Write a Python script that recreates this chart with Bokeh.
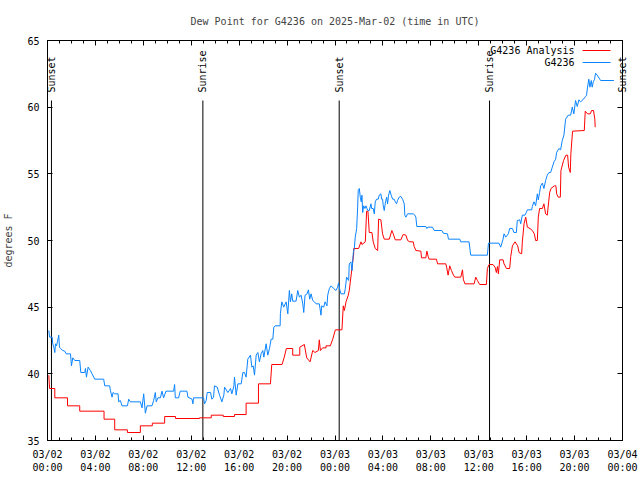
import math
from bokeh.plotting import figure
from bokeh.models import Range1d, FixedTicker, LinearAxis
from bokeh.core.properties import value
from bokeh.embed import file_html
from bokeh.resources import INLINE

TITLE = "Dew Point for G4236 on 2025-Mar-02 (time in UTC)"
Y_LABEL = "degrees F"
X_TICKS = [0, 4, 8, 12, 16, 20, 24, 28, 32, 36, 40, 44, 48]
X_TICK_LABELS = ["03/02\n00:00", "03/02\n04:00", "03/02\n08:00", "03/02\n12:00",
                 "03/02\n16:00", "03/02\n20:00", "03/03\n00:00", "03/03\n04:00",
                 "03/03\n08:00", "03/03\n12:00", "03/03\n16:00", "03/03\n20:00",
                 "03/04\n00:00"]
X_MINOR = list(range(0, 49))
Y_TICKS = [35, 40, 45, 50, 55, 60, 65]

# sun events, hours since 03/02 00:00 UTC
EVENT_HOURS = [0.33, 12.97, 24.35, 36.9]
EVENT_NAMES = ["Sunset", "Sunrise", "Sunset", "Sunrise"]
LAST_EVENT_NAME = "Sunset"   # 03/04 ~00:20, just past the right edge

SERIES_NAMES = ["G4236 Analysis", "G4236"]
SERIES_COLORS = ["#ff0000", "#0a84ff"]

# (hours since 03/02 00:00 UTC, dew point F)
analysis = [
    (0.11, 39.9), (0.17, 38.9), (0.61, 38.9), (0.61, 38.2), (1.67, 38.2), (1.67, 37.6),
    (2.69, 37.6), (2.69, 37.2), (4.72, 37.2), (4.72, 36.6), (5.61, 36.6), (5.61, 35.8),
    (6.67, 35.8), (6.67, 35.6), (7.75, 35.6), (7.75, 36.1), (8.75, 36.1), (8.75, 36.3),
    (9.78, 36.3), (9.78, 36.8), (10.69, 36.8), (10.69, 36.65), (12.69, 36.65), (12.69, 36.7),
    (13.67, 36.7), (13.67, 36.9), (14.67, 36.9), (14.67, 36.8), (15.61, 36.8), (15.61, 36.95),
    (16.58, 36.95), (16.58, 37.8), (17.61, 37.8), (17.61, 39.25), (18.61, 39.25), (18.72, 40.7),
    (19.58, 40.7), (19.75, 41.2), (19.94, 41.9), (20.47, 41.9), (20.47, 41.4), (21.06, 41.4),
    (21.06, 42.0), (21.44, 42.2), (21.64, 41.2), (21.92, 40.9), (22.14, 41.75), (22.33, 41.6),
    (22.61, 41.75), (22.69, 42.55), (22.78, 41.75), (22.97, 41.95), (23.25, 41.95), (23.25, 42.1),
    (23.61, 42.1), (23.81, 42.6), (24.03, 43.3), (24.58, 43.3), (24.69, 45.1), (24.78, 44.75),
    (24.92, 45.4), (25.11, 45.9), (25.19, 46.25), (25.56, 49.0), (25.56, 49.4), (25.97, 49.4),
    (26.17, 49.9), (26.25, 49.7), (26.53, 49.9), (26.64, 52.2), (26.75, 52.2), (26.86, 50.6),
    (27.08, 50.6), (27.19, 49.9), (27.36, 49.4), (27.56, 49.25), (27.64, 51.6), (27.83, 51.55),
    (27.97, 50.5), (28.11, 50.1), (28.53, 50.1), (28.75, 50.75), (28.86, 50.5), (29.03, 50.05),
    (29.5, 50.05), (29.69, 50.45), (29.92, 50.4), (30.06, 50.0), (30.25, 49.9), (30.53, 49.9),
    (30.61, 49.55), (30.75, 49.25), (31.17, 49.2), (31.22, 48.7), (31.58, 48.7), (31.67, 49.2),
    (31.78, 48.8), (31.86, 48.6), (32.47, 48.6), (32.56, 48.25), (33.25, 48.25), (33.33, 47.95),
    (33.44, 47.4), (33.58, 48.1), (33.72, 47.75), (33.89, 47.4), (34.0, 47.25), (34.5, 47.25),
    (34.64, 47.8), (34.72, 47.05), (34.86, 46.75), (35.61, 46.75), (35.75, 47.25), (35.89, 47.0),
    (36.08, 46.7), (36.64, 46.7), (36.72, 47.9), (36.86, 48.2), (37.19, 48.2), (37.36, 48.0),
    (37.47, 47.6), (37.56, 48.05), (37.64, 47.5), (37.75, 48.55), (38.03, 48.55), (38.11, 48.25),
    (38.31, 47.9), (38.58, 47.9), (38.67, 48.8), (38.81, 49.6), (39.03, 49.9), (39.25, 49.6),
    (39.36, 49.1), (39.58, 49.0), (39.64, 49.9), (39.78, 51.25), (39.92, 51.75), (40.06, 51.0),
    (40.28, 50.9), (40.47, 50.75), (40.64, 50.5), (40.75, 50.0), (40.89, 50.0), (40.97, 51.75),
    (41.08, 52.4), (41.31, 52.4), (41.44, 52.75), (41.58, 52.0), (41.72, 51.9), (41.92, 53.6),
    (42.03, 53.9), (42.31, 54.1), (42.44, 54.1), (42.5, 53.5), (42.64, 53.25), (42.81, 53.25),
    (42.86, 55.25), (43.08, 56.0), (43.28, 56.4), (43.42, 56.4), (43.5, 55.5), (43.64, 55.1),
    (43.69, 56.5), (43.83, 58.2), (44.81, 58.25), (44.89, 59.7), (45.08, 59.5), (45.31, 59.5),
    (45.42, 59.75), (45.58, 59.75), (45.69, 59.1), (45.72, 58.5),
]

observed = [
    (0.11, 43.25), (0.17, 42.75), (0.39, 42.75), (0.44, 42.25), (0.53, 42.0), (0.61, 41.6),
    (0.67, 42.25), (0.75, 42.1), (0.83, 42.4), (0.94, 42.9), (1.0, 42.0), (1.08, 41.9),
    (1.28, 41.75), (1.44, 41.7), (1.56, 41.5), (1.92, 41.5), (2.0, 40.6), (2.11, 41.2),
    (2.28, 41.0), (2.69, 41.0), (2.78, 40.1), (3.11, 40.1), (3.17, 40.4), (3.25, 39.75),
    (3.39, 40.5), (3.58, 40.25), (3.72, 40.0), (3.94, 39.6), (4.69, 39.6), (4.78, 39.1),
    (5.19, 39.1), (5.25, 38.75), (5.39, 38.25), (5.47, 38.6), (5.61, 38.5), (5.89, 38.5),
    (5.94, 37.9), (6.08, 38.0), (6.22, 37.6), (6.67, 37.6), (6.78, 38.1), (6.92, 37.9),
    (7.75, 37.9), (7.89, 37.45), (8.03, 38.5), (8.17, 37.05), (8.31, 37.6), (8.72, 37.6),
    (8.86, 38.0), (9.0, 38.6), (9.08, 37.9), (9.22, 38.2), (9.42, 38.2), (9.56, 38.7),
    (9.69, 38.2), (9.89, 38.7), (10.53, 38.7), (10.61, 39.2), (10.67, 38.2), (10.94, 38.2),
    (11.08, 38.7), (11.64, 38.7), (11.72, 38.25), (12.06, 38.1), (12.14, 37.75), (12.19, 38.2),
    (13.03, 38.2), (13.11, 37.75), (13.25, 38.0), (13.33, 38.6), (13.61, 38.6), (13.72, 38.1),
    (13.86, 38.25), (13.94, 39.1), (14.17, 39.0), (14.36, 38.4), (14.56, 37.9), (14.72, 38.4),
    (14.78, 39.0), (15.06, 38.6), (15.28, 38.9), (15.39, 38.5), (15.56, 39.1), (15.61, 39.75),
    (15.75, 38.4), (15.89, 39.25), (16.17, 39.25), (16.31, 40.1), (16.44, 40.1), (16.58, 39.75),
    (16.72, 41.1), (16.94, 41.4), (17.06, 40.5), (17.17, 40.6), (17.28, 39.9), (17.42, 41.4),
    (17.56, 41.6), (17.69, 40.9), (17.83, 41.5), (17.97, 41.75), (18.06, 41.25), (18.25, 42.25),
    (18.39, 41.4), (18.53, 41.9), (18.67, 42.6), (18.81, 42.6), (18.89, 43.5), (19.0, 43.6),
    (19.42, 43.6), (19.44, 44.5), (19.56, 45.4), (19.72, 45.0), (19.92, 45.4), (20.06, 44.5),
    (20.19, 46.25), (20.28, 45.4), (20.39, 46.0), (20.47, 45.45), (20.75, 45.45), (20.89, 46.25),
    (21.03, 45.75), (21.17, 45.9), (21.31, 45.25), (21.39, 44.6), (21.5, 45.9), (21.67, 46.0),
    (21.78, 46.3), (21.89, 45.6), (22.0, 46.0), (22.14, 45.5), (22.28, 45.4), (22.42, 45.25),
    (22.69, 45.25), (22.83, 44.4), (22.89, 45.1), (23.06, 45.0), (23.17, 45.4), (23.33, 45.1),
    (23.39, 45.9), (23.53, 46.4), (23.67, 46.6), (23.89, 46.4), (24.08, 46.25), (24.22, 46.5),
    (24.29, 46.8), (24.42, 46.25), (24.5, 46.0), (24.78, 46.0), (24.86, 46.4), (24.97, 47.25),
    (25.14, 47.0), (25.19, 48.25), (25.33, 48.4), (25.42, 47.75), (25.53, 49.1), (25.61, 49.4),
    (25.69, 50.25), (25.81, 50.9), (25.89, 52.5), (25.94, 53.75), (26.03, 53.9), (26.11, 53.25),
    (26.19, 52.9), (26.25, 53.4), (26.31, 52.1), (26.39, 52.6), (26.5, 52.4), (26.58, 52.6),
    (26.67, 52.4), (26.75, 52.25), (26.86, 52.25), (27.0, 52.75), (27.06, 52.4), (27.19, 52.4),
    (27.28, 52.0), (27.36, 52.9), (27.47, 53.1), (27.61, 53.1), (27.69, 53.4), (27.83, 53.5),
    (27.89, 53.1), (27.97, 53.1), (28.03, 52.6), (28.11, 52.25), (28.19, 52.75), (28.31, 53.25),
    (28.39, 52.75), (28.47, 53.4), (28.58, 53.75), (28.69, 53.4), (28.81, 53.1), (28.94, 53.1),
    (29.03, 52.9), (29.14, 52.75), (29.22, 53.0), (29.36, 53.25), (29.5, 53.3), (29.64, 53.1),
    (29.78, 52.75), (29.83, 51.9), (29.92, 51.75), (30.06, 52.0), (30.53, 52.0), (30.67, 51.9),
    (30.75, 51.75), (30.83, 51.05), (31.58, 51.05), (31.67, 50.9), (31.75, 51.0), (32.14, 51.0),
    (32.28, 50.75), (32.92, 50.75), (33.03, 50.55), (33.39, 50.5), (33.47, 50.1), (34.42, 50.1),
    (34.5, 49.9), (35.19, 49.9), (35.28, 49.25), (35.33, 48.9), (36.72, 48.9), (36.81, 49.8),
    (37.69, 49.8), (37.83, 49.5), (38.03, 50.1), (38.11, 50.5), (38.25, 50.25), (38.47, 50.5),
    (38.58, 50.9), (38.81, 50.9), (38.94, 50.6), (39.14, 50.6), (39.22, 51.5), (39.42, 51.55),
    (39.5, 51.25), (39.64, 51.9), (39.86, 51.9), (39.97, 52.1), (40.06, 52.3), (40.42, 52.3),
    (40.47, 52.55), (40.61, 52.9), (40.75, 52.6), (40.89, 53.5), (40.97, 53.05), (41.08, 53.6),
    (41.17, 54.1), (41.31, 54.3), (41.44, 53.9), (41.58, 54.5), (41.72, 54.9), (41.86, 55.1),
    (42.0, 55.1), (42.14, 55.5), (42.28, 55.9), (42.42, 56.1), (42.5, 56.6), (42.69, 56.9),
    (42.83, 56.8), (42.97, 57.5), (43.11, 57.9), (43.25, 59.1), (43.47, 59.4), (43.67, 59.4),
    (43.81, 60.0), (43.94, 59.5), (44.08, 60.5), (44.22, 60.05), (44.36, 60.55), (44.5, 60.4),
    (44.69, 60.55), (44.92, 60.8), (45.0, 60.9), (45.08, 61.5), (45.19, 62.1), (45.28, 61.5),
    (45.39, 62.0), (45.47, 61.5), (45.56, 61.9), (45.67, 62.1), (45.75, 62.55), (45.89, 62.4),
    (46.17, 62.0), (47.28, 62.0),
]

FONT = "DejaVu Sans Mono"
FS = "10px"

p = figure(width=640, height=480, x_range=Range1d(0, 48), y_range=Range1d(35, 65),
           output_backend="svg", toolbar_location=None,
           min_border_left=46, min_border_right=18, min_border_top=40, min_border_bottom=40)
p.background_fill_color = "white"
p.border_fill_color = "white"
p.outline_line_color = "black"
p.outline_line_width = 1
p.xgrid.visible = False
p.ygrid.visible = False

p.title.text = TITLE
p.title.align = "center"
p.title.text_font = FONT
p.title.text_font_size = FS
p.title.text_font_style = "normal"
p.title.standoff = 27

xt = FixedTicker(ticks=X_TICKS, minor_ticks=X_MINOR)
yt = FixedTicker(ticks=Y_TICKS, minor_ticks=[])

xa = p.xaxis[0]
xa.ticker = xt
xa.major_label_overrides = {t: lab for t, lab in zip(X_TICKS, X_TICK_LABELS)}
ya = p.yaxis[0]
ya.ticker = yt
ya.axis_label = Y_LABEL
ya.axis_label_text_font = FONT
ya.axis_label_text_font_size = FS
ya.axis_label_text_font_style = "normal"
ya.axis_label_standoff = 10

# mirrored tick axes (no labels)
top = LinearAxis(ticker=xt, major_label_text_font_size="0px", major_label_text_color=None,
                 major_label_standoff=0)
right = LinearAxis(ticker=yt, major_label_text_font_size="0px", major_label_text_color=None,
                   major_label_standoff=3)
p.add_layout(top, "above")
p.add_layout(right, "right")

for ax in [xa, ya, top, right]:
    ax.axis_line_color = "black"
    ax.major_tick_line_color = "black"
    ax.minor_tick_line_color = "black"
    ax.major_tick_in = 5
    ax.major_tick_out = 0
    ax.minor_tick_in = 3
    ax.minor_tick_out = 0
for ax in [xa, ya]:
    ax.major_label_text_font = FONT
    ax.major_label_text_font_size = FS
    ax.major_label_text_color = "black"
    ax.major_label_standoff = 8

# sunrise / sunset markers inside the plot
p.segment(x0=EVENT_HOURS, y0=[35] * len(EVENT_HOURS), x1=EVENT_HOURS,
          y1=[60.5] * len(EVENT_HOURS), line_color="black", line_width=1)
p.text(x=EVENT_HOURS, y=[61.1] * len(EVENT_HOURS), text=EVENT_NAMES, angle=math.pi / 2,
       text_align="left", text_baseline="middle", text_font=value(FONT),
       text_font_size=FS, text_color="black")

# last sunset lies just past the right border: its line and label sit beside the frame
sun_line = LinearAxis(ticker=FixedTicker(ticks=[], minor_ticks=[]), bounds=(35, 60.5),
                      axis_line_color="black", major_tick_line_color=None,
                      minor_tick_line_color=None, major_label_text_color=None,
                      major_label_text_font_size="0px", major_label_standoff=0)
p.add_layout(sun_line, "right")
sun_lab = LinearAxis(ticker=FixedTicker(ticks=[61.1], minor_ticks=[]),
                     axis_line_color=None, major_tick_line_color=None,
                     minor_tick_line_color=None, major_tick_in=0, major_tick_out=0,
                     major_label_overrides={61.1: LAST_EVENT_NAME},
                     major_label_orientation=math.pi / 2, major_label_standoff=0,
                     major_label_text_font=FONT, major_label_text_font_size=FS,
                     major_label_text_color="black")
p.add_layout(sun_lab, "right")

# data
for pts, col in [(analysis, SERIES_COLORS[0]), (observed, SERIES_COLORS[1])]:
    xs = [a for a, b in pts]
    ys = [b for a, b in pts]
    p.line(xs, ys, line_color=col, line_width=1)

# legend (gnuplot style: text then sample)
LEG_TEXT_X = 44.0
LEG_LINE_X0, LEG_LINE_X1 = 44.67, 47.0
LEG_Y = [64.25, 63.35]
p.text(x=[LEG_TEXT_X] * 2, y=LEG_Y, text=SERIES_NAMES, text_align="right",
       text_baseline="middle", text_font=value(FONT), text_font_size=FS, text_color="black")
p.segment(x0=[LEG_LINE_X0] * 2, x1=[LEG_LINE_X1] * 2, y0=LEG_Y, y1=LEG_Y,
          line_color=SERIES_COLORS, line_width=1)

open("out.html", "w").write(file_html(p, INLINE))
